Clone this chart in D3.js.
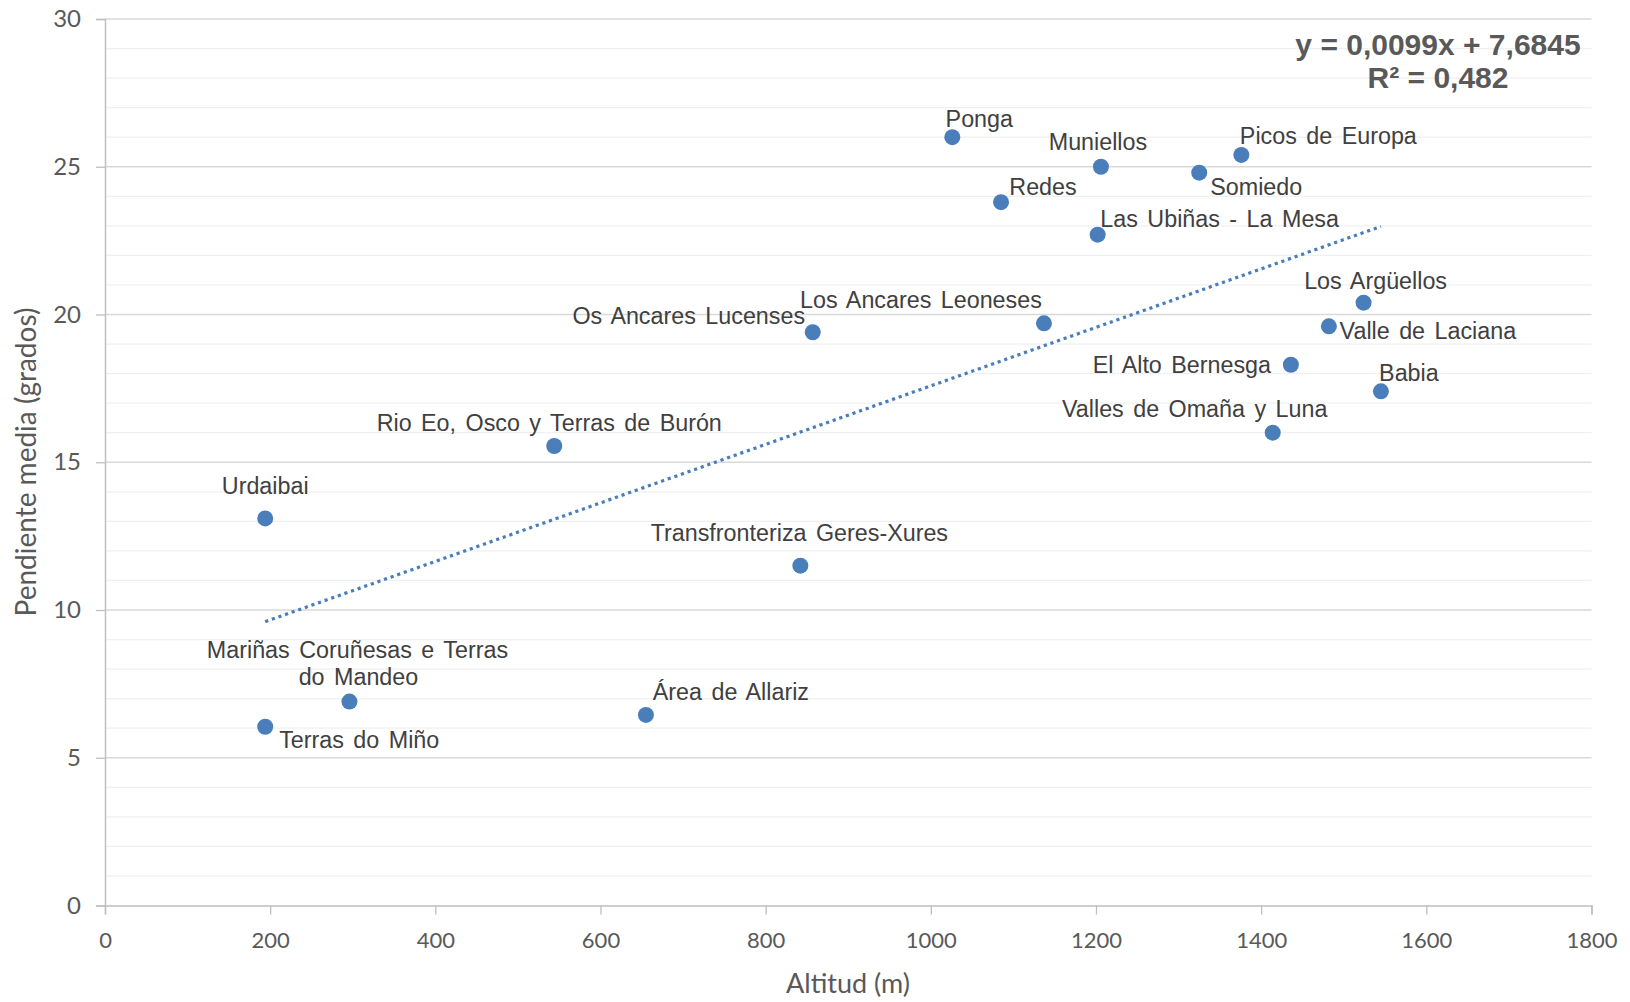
<!DOCTYPE html>
<html><head><meta charset="utf-8">
<script src="https://cdn.jsdelivr.net/npm/d3@7"></script>
<style>
html,body{margin:0;padding:0;background:#fff;}
svg{display:block;}
</style></head>
<body>
<svg id="chart" width="1630" height="1002"></svg>
<script>
// ---- Data ----
const names = ["Ponga","Muniellos","Picos de Europa","Somiedo","Redes","Las Ubiñas - La Mesa","Los Argüellos","Valle de Laciana","Los Ancares Leoneses","Os Ancares Lucenses","El Alto Bernesga","Babia","Valles de Omaña y Luna","Rio Eo, Osco y Terras de Burón","Urdaibai","Transfronteriza Geres-Xures","Mariñas Coruñesas e Terras\ndo Mandeo","Área de Allariz","Terras do Miño"];
const altitud = [1026,1206,1376,1325,1085,1202,1524,1482,1137,857,1436,1545,1414,544,194,842,296,655,194];
const pendiente = [26.0,25.0,25.4,24.8,23.8,22.7,20.4,19.6,19.7,19.4,18.3,17.4,16.0,15.55,13.1,11.5,6.9,6.45,6.05];
const xTicks = [0,200,400,600,800,1000,1200,1400,1600,1800];
const yTicks = [0,5,10,15,20,25,30];
const trendSlope = 0.0099, trendIntercept = 7.6845;
const equationLines = ["y = 0,0099x + 7,6845","R² = 0,482"];
// label placement (offset of text centre from point, px)
const labelDx = [27,-3,87,57,42,122,12,99,-123,-124,-109,28,-78,-5,0,-1,8,85,94];
const labelDy = [-18,-25,-19,14,-15,-16,-22,5,-23,-16,0,-18,-24,-23,-32,-33,-52,-23,13];

// ---- Layout ----
const svg = d3.select("#chart");
const x = d3.scaleLinear().domain([0,1800]).range([105,1591.5]);
const y = d3.scaleLinear().domain([0,30]).range([905.5,19]);

// minor gridlines
svg.append("g").selectAll("line").data(d3.range(1,30).filter(v=>v%5!==0)).join("line")
  .attr("x1",x(0)).attr("x2",x(1800)).attr("y1",d=>y(d)).attr("y2",d=>y(d))
  .attr("stroke","#f0f0f0").attr("stroke-width",1.2);
// major gridlines
svg.append("g").selectAll("line").data(yTicks.filter(v=>v>0)).join("line")
  .attr("x1",x(0)).attr("x2",x(1800)).attr("y1",d=>y(d)).attr("y2",d=>y(d))
  .attr("stroke","#d9d9d9").attr("stroke-width",1.3);

const tickFont = "Lato, 'Open Sans', sans-serif";
// x axis
const xAxis = svg.append("g").attr("transform",`translate(0,${y(0)})`)
  .call(d3.axisBottom(x).tickValues(xTicks).tickSize(9).tickPadding(18).tickFormat(d3.format("d")));
// y axis
const yAxis = svg.append("g").attr("transform",`translate(${x(0)},0)`)
  .call(d3.axisLeft(y).tickValues(yTicks).tickSize(9).tickPadding(15));
[xAxis,yAxis].forEach(a=>{
  a.select(".domain").attr("stroke","#bfbfbf").attr("stroke-width",1.5);
  a.selectAll(".tick line").attr("stroke","#bfbfbf").attr("stroke-width",1.3);
  a.selectAll(".tick text").attr("fill","#595959").style("font-family",tickFont).style("font-size","22px");
});
xAxis.selectAll(".tick text").attr("dy","0.71em");
yAxis.selectAll(".tick text").style("font-size","24px");

// axis titles
svg.append("text").attr("x",848).attr("y",993).attr("text-anchor","middle")
  .attr("fill","#595959").style("font-family",tickFont).style("font-size","27px").text("Altitud (m)");
svg.append("text").attr("transform","translate(36,462) rotate(-90)").attr("text-anchor","middle")
  .attr("fill","#595959").style("font-family",tickFont).style("font-size","28px").text("Pendiente media (grados)");

// trendline
const xmin = d3.min(altitud), xmax = d3.max(altitud);
svg.append("line")
  .attr("x1",x(xmin)).attr("y1",y(trendSlope*xmin+trendIntercept))
  .attr("x2",x(xmax)).attr("y2",y(trendSlope*xmax+trendIntercept))
  .attr("stroke","#4a7ebb").attr("stroke-width",3.2).attr("stroke-dasharray","3.2,3.8");

// points
const pts = names.map((n,i)=>({name:n,x:altitud[i],y:pendiente[i],dx:labelDx[i],dy:labelDy[i]}));
svg.append("g").selectAll("circle").data(pts).join("circle")
  .attr("cx",d=>x(d.x)).attr("cy",d=>y(d.y)).attr("r",8).attr("fill","#4a7ebb");

// labels
const lab = svg.append("g").style("font-family","'Liberation Sans', Arial, sans-serif")
  .style("font-size","23.3px").attr("fill","#404040");
pts.forEach(d=>{
  const lines = d.name.split("\n");
  lines.forEach((ln,j)=>{
    lab.append("text").attr("x",x(d.x)+d.dx+(j?1:0)).attr("y",y(d.y)+d.dy+j*27)
      .attr("text-anchor","middle").attr("dominant-baseline","central")
      .style("word-spacing","3px").text(ln);
  });
});

// equation
svg.append("g").selectAll("text").data(equationLines).join("text")
  .attr("x",1438).attr("y",(d,i)=>55+i*33).attr("text-anchor","middle")
  .attr("fill","#595959").style("font-family","'Liberation Sans', Arial, sans-serif")
  .style("font-weight","bold").style("font-size","30px").text(d=>d);
</script>
</body></html>
